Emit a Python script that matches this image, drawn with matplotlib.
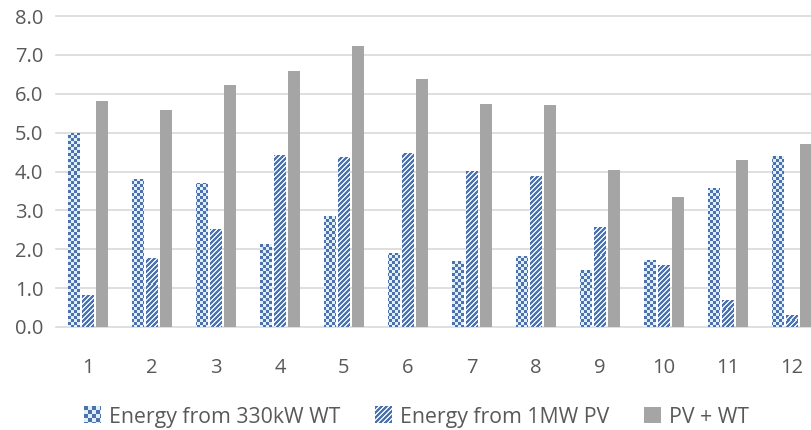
import numpy as np
import matplotlib
matplotlib.use('Agg')
import matplotlib.pyplot as plt
from matplotlib.legend_handler import HandlerBase
from matplotlib.image import BboxImage
from matplotlib.transforms import Bbox, TransformedBbox

plt.rcParams['font.family'] = 'Open Sans'

months = ['1', '2', '3', '4', '5', '6', '7', '8', '9', '10', '11', '12']
wt_energy = [5.0, 3.8, 3.7, 2.13, 2.86, 1.91, 1.70, 1.83, 1.47, 1.72, 3.57, 4.40]
pv_energy = [0.82, 1.78, 2.52, 4.42, 4.37, 4.47, 4.01, 3.88, 2.58, 1.59, 0.70, 0.31]
pv_plus_wt = [5.81, 5.58, 6.22, 6.58, 7.22, 6.38, 5.73, 5.71, 4.04, 3.34, 4.29, 4.70]
series_names = ['Energy from 330kW WT', 'Energy from 1MW PV', 'PV + WT']
y_ticks = [0, 1, 2, 3, 4, 5, 6, 7, 8]

BLUE = np.array([0x4f, 0x6f, 0xae]) / 255
LIGHT = np.array([0xdc, 0xf1, 0xf8]) / 255
GREY = '#a5a5a5'
TEXT = '#595959'


def checker(h, w, cell=3):
    i, j = np.indices((h, w))
    mask = ((i // cell) + (j // cell)) % 2 == 0
    return np.where(mask[..., None], BLUE, LIGHT)


def stripes(h, w, period=5, on=3):
    i, j = np.indices((h, w))
    mask = (i + j) % period < on
    return np.where(mask[..., None], BLUE, LIGHT)


class PatternHandler(HandlerBase):
    # legend key filled with a pixel pattern instead of a hatch
    def __init__(self, pattern):
        super().__init__()
        self.pattern = pattern

    def create_artists(self, legend, orig_handle, xdescent, ydescent,
                       width, height, fontsize, trans):
        bb = TransformedBbox(Bbox.from_bounds(-xdescent, -ydescent, width, height), trans)
        img = BboxImage(bb, interpolation='nearest')
        img.set_data(self.pattern)
        return [img]


fig = plt.figure(figsize=(8.12, 4.3), dpi=100)
ax = fig.add_axes([56 / 812, 103 / 430, 768 / 812, 311 / 430])

x = np.arange(len(months))
width = 0.1875
step = 0.219
b_wt = ax.bar(x - step, wt_energy, width, color='none', linewidth=0)
b_pv = ax.bar(x, pv_energy, width, color='none', linewidth=0)
b_tot = ax.bar(x + step, pv_plus_wt, width, color=GREY, linewidth=0, zorder=2)

# fill the patterned bars with a clipped pixel image
extent = (-0.5, 11.5, 0, 8)
for bars, pat in ((b_wt, checker(311, 768)), (b_pv, stripes(311, 768))):
    for rect in bars:
        im = ax.imshow(pat, extent=extent, aspect='auto',
                       interpolation='nearest', zorder=2)
        im.set_clip_path(rect)

ax.set_xlim(-0.5, 11.5)
ax.set_ylim(0, 8)
ax.set_xticks(x)
ax.set_xticklabels(months)
ax.set_yticks(y_ticks)
ax.set_yticklabels([f'{v:.1f}' for v in y_ticks])
ax.tick_params(length=0, labelsize=14.5, colors=TEXT)
ax.tick_params(axis='y', pad=9)
ax.tick_params(axis='x', pad=22)

ax.set_axisbelow(True)
ax.yaxis.grid(True, color='#d9d9d9', linewidth=1.2)
for line in ax.get_ygridlines():
    line.set_clip_on(False)
for s in ax.spines.values():
    s.set_visible(False)

fig.legend([b_wt, b_pv, b_tot], series_names,
           handler_map={b_wt: PatternHandler(checker(17, 17, cell=4)),
                        b_pv: PatternHandler(stripes(17, 17, period=5, on=3))},
           loc='center', bbox_to_anchor=(0.513, 0.03), ncol=3, frameon=False,
           fontsize=15.3, labelcolor=TEXT, columnspacing=1.6, handletextpad=0.4,
           handlelength=0.8, handleheight=0.8)

fig.savefig('out.png', dpi=100)
